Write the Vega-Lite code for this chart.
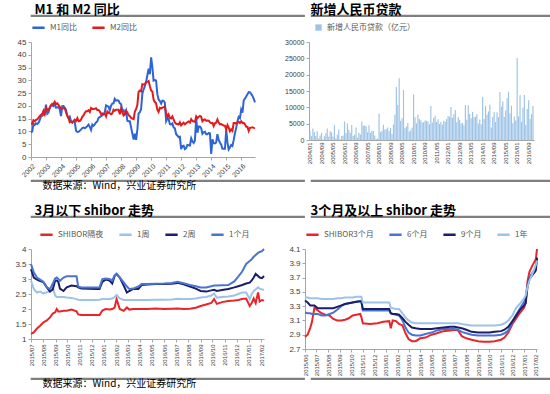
{
"$schema": "https://vega.github.io/schema/vega-lite/v6.json",
"background": "white",
"padding": {"left": 0, "top": 2, "right": 0, "bottom": 0},
"spacing": 11,
"resolve": {"scale": {"color": "independent"}},
"config": {
  "font": "Noto Sans CJK SC",
  "view": {"stroke": null},
  "axis": {"labelFont": "Liberation Sans", "labelFontSize": 8, "labelColor": "#404040", "domainColor": "#a6a6a6", "tickColor": "#a6a6a6", "grid": false, "tickSize": 3, "labelPadding": 2, "labelOverlap": false},
  "legend": {"orient": "top", "direction": "horizontal", "title": null, "labelFontSize": 8, "labelColor": "#595959", "symbolType": "stroke", "symbolStrokeWidth": 2.5, "symbolSize": 150, "columnPadding": 10, "labelFont": "Noto Sans CJK SC"},
  "title": {"color": "#000000", "font": "Noto Sans CJK SC"}
},
"vconcat": [
{"spacing": 0, "resolve": {"scale": {"color": "independent"}}, "vconcat": [
  {"spacing": 4, "hconcat": [
    {"width": 273, "height": 1, "data": {"values": [{}]}, "mark": "rule", "encoding": {}, "view": {"stroke": "#7f7f7f", "strokeWidth": 1.2},
     "title": {"text": "M1 和 M2 同比", "anchor": "start", "dx": 4, "offset": -2, "fontSize": 13, "fontWeight": "bold"}},
    {"width": 273, "height": 1, "data": {"values": [{}]}, "mark": "rule", "encoding": {}, "view": {"stroke": "#7f7f7f", "strokeWidth": 1.2},
     "title": {"text": "新增人民币贷款", "anchor": "start", "dx": 0, "offset": -2, "fontSize": 13, "fontWeight": "bold"}}
  ]},
  {"spacing": 4, "resolve": {"scale": {"color": "independent"}}, "hconcat": [
   {"vconcat": [
    {"width": 224, "height": 115,
     "data": {"format": {"parse": {"d": "date:'%Y/%m'"}}, "values": [
{"d":"2002/01","M1同比":9.6,"M2同比":13.0},{"d":"2002/02","M1同比":10.0,"M2同比":13.0},{"d":"2002/03","M1同比":13.0,"M2同比":14.4},{"d":"2002/04","M1同比":12.5,"M2同比":14.0},{"d":"2002/05","M1同比":13.2,"M2同比":14.5},{"d":"2002/06","M1同比":12.9,"M2同比":14.7},{"d":"2002/07","M1同比":13.3,"M2同比":15.3},{"d":"2002/08","M1同比":14.4,"M2同比":16.0},{"d":"2002/09","M1同比":15.9,"M2同比":16.5},{"d":"2002/10","M1同比":16.1,"M2同比":16.9},{"d":"2002/11","M1同比":16.5,"M2同比":18.1},{"d":"2002/12","M1同比":16.8,"M2同比":16.8},
{"d":"2003/01","M1同比":20.5,"M2同比":19.3},{"d":"2003/02","M1同比":16.9,"M2同比":18.5},{"d":"2003/03","M1同比":17.4,"M2同比":18.5},{"d":"2003/04","M1同比":19.1,"M2同比":19.2},{"d":"2003/05","M1同比":20.2,"M2同比":20.2},{"d":"2003/06","M1同比":20.2,"M2同比":20.8},{"d":"2003/07","M1同比":19.9,"M2同比":20.7},{"d":"2003/08","M1同比":20.8,"M2同比":21.6},{"d":"2003/09","M1同比":19.3,"M2同比":20.7},{"d":"2003/10","M1同比":19.4,"M2同比":21.0},{"d":"2003/11","M1同比":19.6,"M2同比":20.4},{"d":"2003/12","M1同比":18.7,"M2同比":19.6},
{"d":"2004/01","M1同比":16.0,"M2同比":18.9},{"d":"2004/02","M1同比":20.0,"M2同比":19.0},{"d":"2004/03","M1同比":20.0,"M2同比":19.1},{"d":"2004/04","M1同比":19.2,"M2同比":19.1},{"d":"2004/05","M1同比":18.5,"M2同比":17.5},{"d":"2004/06","M1同比":16.2,"M2同比":16.2},{"d":"2004/07","M1同比":15.2,"M2同比":15.3},{"d":"2004/08","M1同比":15.8,"M2同比":13.6},{"d":"2004/09","M1同比":13.9,"M2同比":13.9},{"d":"2004/10","M1同比":13.5,"M2同比":13.5},{"d":"2004/11","M1同比":14.1,"M2同比":14.0},{"d":"2004/12","M1同比":13.6,"M2同比":14.6},
{"d":"2005/01","M1同比":10.3,"M2同比":14.1},{"d":"2005/02","M1同比":9.8,"M2同比":15.2},{"d":"2005/03","M1同比":9.9,"M2同比":14.0},{"d":"2005/04","M1同比":10.3,"M2同比":14.1},{"d":"2005/05","M1同比":10.7,"M2同比":14.6},{"d":"2005/06","M1同比":11.3,"M2同比":15.7},{"d":"2005/07","M1同比":11.5,"M2同比":16.3},{"d":"2005/08","M1同比":11.3,"M2同比":17.3},{"d":"2005/09","M1同比":11.6,"M2同比":17.9},{"d":"2005/10","M1同比":12.1,"M2同比":17.9},{"d":"2005/11","M1同比":12.7,"M2同比":18.3},{"d":"2005/12","M1同比":11.8,"M2同比":17.6},
{"d":"2006/01","M1同比":10.6,"M2同比":19.2},{"d":"2006/02","M1同比":12.7,"M2同比":18.8},{"d":"2006/03","M1同比":12.2,"M2同比":18.8},{"d":"2006/04","M1同比":12.8,"M2同比":18.9},{"d":"2006/05","M1同比":13.5,"M2同比":19.1},{"d":"2006/06","M1同比":13.9,"M2同比":18.4},{"d":"2006/07","M1同比":15.3,"M2同比":18.4},{"d":"2006/08","M1同比":15.6,"M2同比":17.9},{"d":"2006/09","M1同比":16.0,"M2同比":16.8},{"d":"2006/10","M1同比":16.3,"M2同比":17.1},{"d":"2006/11","M1同比":16.8,"M2同比":16.8},{"d":"2006/12","M1同比":17.5,"M2同比":16.9},
{"d":"2007/01","M1同比":20.2,"M2同比":15.9},{"d":"2007/02","M1同比":19.9,"M2同比":17.8},{"d":"2007/03","M1同比":19.8,"M2同比":17.3},{"d":"2007/04","M1同比":18.3,"M2同比":17.1},{"d":"2007/05","M1同比":20.0,"M2同比":16.7},{"d":"2007/06","M1同比":20.9,"M2同比":17.1},{"d":"2007/07","M1同比":21.0,"M2同比":18.5},{"d":"2007/08","M1同比":22.8,"M2同比":18.1},{"d":"2007/09","M1同比":22.1,"M2同比":18.5},{"d":"2007/10","M1同比":22.2,"M2同比":18.5},{"d":"2007/11","M1同比":22.1,"M2同比":18.5},{"d":"2007/12","M1同比":21.0,"M2同比":16.7},
{"d":"2008/01","M1同比":20.7,"M2同比":18.9},{"d":"2008/02","M1同比":18.2,"M2同比":17.5},{"d":"2008/03","M1同比":18.3,"M2同比":16.3},{"d":"2008/04","M1同比":16.9,"M2同比":16.9},{"d":"2008/05","M1同比":18.1,"M2同比":18.1},{"d":"2008/06","M1同比":14.2,"M2同比":17.4},{"d":"2008/07","M1同比":14.0,"M2同比":16.4},{"d":"2008/08","M1同比":14.0,"M2同比":16.0},{"d":"2008/09","M1同比":11.5,"M2同比":15.3},{"d":"2008/10","M1同比":9.2,"M2同比":15.0},{"d":"2008/11","M1同比":6.8,"M2同比":14.8},{"d":"2008/12","M1同比":9.1,"M2同比":17.8},
{"d":"2009/01","M1同比":6.7,"M2同比":18.8},{"d":"2009/02","M1同比":10.9,"M2同比":20.5},{"d":"2009/03","M1同比":17.0,"M2同比":25.5},{"d":"2009/04","M1同比":17.5,"M2同比":26.0},{"d":"2009/05","M1同比":18.7,"M2同比":25.7},{"d":"2009/06","M1同比":24.8,"M2同比":28.5},{"d":"2009/07","M1同比":26.4,"M2同比":28.4},{"d":"2009/08","M1同比":27.7,"M2同比":28.5},{"d":"2009/09","M1同比":29.5,"M2同比":29.3},{"d":"2009/10","M1同比":32.0,"M2同比":29.4},{"d":"2009/11","M1同比":34.6,"M2同比":29.7},{"d":"2009/12","M1同比":32.4,"M2同比":27.7},
{"d":"2010/01","M1同比":39.0,"M2同比":26.0},{"d":"2010/02","M1同比":35.0,"M2同比":25.5},{"d":"2010/03","M1同比":29.9,"M2同比":22.5},{"d":"2010/04","M1同比":30.2,"M2同比":21.5},{"d":"2010/05","M1同比":29.9,"M2同比":21.0},{"d":"2010/06","M1同比":24.6,"M2同比":18.5},{"d":"2010/07","M1同比":22.5,"M2同比":17.6},{"d":"2010/08","M1同比":21.9,"M2同比":19.2},{"d":"2010/09","M1同比":20.9,"M2同比":19.0},{"d":"2010/10","M1同比":22.1,"M2同比":19.3},{"d":"2010/11","M1同比":22.0,"M2同比":19.5},{"d":"2010/12","M1同比":21.2,"M2同比":19.7},
{"d":"2011/01","M1同比":14.0,"M2同比":17.2},{"d":"2011/02","M1同比":15.0,"M2同比":15.7},{"d":"2011/03","M1同比":15.0,"M2同比":16.6},{"d":"2011/04","M1同比":12.9,"M2同比":15.3},{"d":"2011/05","M1同比":12.7,"M2同比":15.1},{"d":"2011/06","M1同比":13.1,"M2同比":15.9},{"d":"2011/07","M1同比":11.6,"M2同比":14.7},{"d":"2011/08","M1同比":11.2,"M2同比":13.5},{"d":"2011/09","M1同比":8.9,"M2同比":13.0},{"d":"2011/10","M1同比":8.4,"M2同比":12.9},{"d":"2011/11","M1同比":7.8,"M2同比":12.7},{"d":"2011/12","M1同比":7.9,"M2同比":13.6},
{"d":"2012/01","M1同比":3.1,"M2同比":12.4},{"d":"2012/02","M1同比":4.3,"M2同比":13.0},{"d":"2012/03","M1同比":4.4,"M2同比":13.4},{"d":"2012/04","M1同比":3.1,"M2同比":12.8},{"d":"2012/05","M1同比":3.5,"M2同比":13.2},{"d":"2012/06","M1同比":4.7,"M2同比":13.6},{"d":"2012/07","M1同比":4.6,"M2同比":13.9},{"d":"2012/08","M1同比":4.5,"M2同比":13.5},{"d":"2012/09","M1同比":7.3,"M2同比":14.8},{"d":"2012/10","M1同比":6.1,"M2同比":14.1},{"d":"2012/11","M1同比":5.5,"M2同比":13.9},{"d":"2012/12","M1同比":6.5,"M2同比":13.8},
{"d":"2013/01","M1同比":15.3,"M2同比":15.9},{"d":"2013/02","M1同比":9.5,"M2同比":15.2},{"d":"2013/03","M1同比":11.9,"M2同比":15.7},{"d":"2013/04","M1同比":11.9,"M2同比":16.1},{"d":"2013/05","M1同比":11.3,"M2同比":15.8},{"d":"2013/06","M1同比":9.1,"M2同比":14.0},{"d":"2013/07","M1同比":9.7,"M2同比":14.5},{"d":"2013/08","M1同比":9.9,"M2同比":14.7},{"d":"2013/09","M1同比":8.9,"M2同比":14.2},{"d":"2013/10","M1同比":8.9,"M2同比":14.3},{"d":"2013/11","M1同比":9.4,"M2同比":14.2},{"d":"2013/12","M1同比":9.3,"M2同比":13.6},
{"d":"2014/01","M1同比":1.2,"M2同比":13.2},{"d":"2014/02","M1同比":6.9,"M2同比":13.3},{"d":"2014/03","M1同比":5.4,"M2同比":12.1},{"d":"2014/04","M1同比":5.3,"M2同比":13.2},{"d":"2014/05","M1同比":5.7,"M2同比":13.4},{"d":"2014/06","M1同比":8.9,"M2同比":14.7},{"d":"2014/07","M1同比":6.7,"M2同比":13.5},{"d":"2014/08","M1同比":5.7,"M2同比":12.8},{"d":"2014/09","M1同比":4.8,"M2同比":12.9},{"d":"2014/10","M1同比":3.2,"M2同比":12.6},{"d":"2014/11","M1同比":3.2,"M2同比":12.3},{"d":"2014/12","M1同比":3.2,"M2同比":12.2},
{"d":"2015/01","M1同比":10.6,"M2同比":10.8},{"d":"2015/02","M1同比":5.6,"M2同比":12.5},{"d":"2015/03","M1同比":2.9,"M2同比":11.6},{"d":"2015/04","M1同比":3.7,"M2同比":10.1},{"d":"2015/05","M1同比":4.7,"M2同比":10.8},{"d":"2015/06","M1同比":4.3,"M2同比":10.2},{"d":"2015/07","M1同比":6.6,"M2同比":13.3},{"d":"2015/08","M1同比":9.3,"M2同比":13.3},{"d":"2015/09","M1同比":11.4,"M2同比":13.1},{"d":"2015/10","M1同比":14.0,"M2同比":13.5},{"d":"2015/11","M1同比":15.7,"M2同比":13.7},{"d":"2015/12","M1同比":15.2,"M2同比":13.3},
{"d":"2016/01","M1同比":18.6,"M2同比":14.0},{"d":"2016/02","M1同比":17.4,"M2同比":13.3},{"d":"2016/03","M1同比":22.1,"M2同比":13.4},{"d":"2016/04","M1同比":22.9,"M2同比":12.8},{"d":"2016/05","M1同比":23.7,"M2同比":11.8},{"d":"2016/06","M1同比":24.6,"M2同比":11.8},{"d":"2016/07","M1同比":25.4,"M2同比":10.2},{"d":"2016/08","M1同比":25.3,"M2同比":11.4},{"d":"2016/09","M1同比":24.7,"M2同比":11.5},{"d":"2016/10","M1同比":23.9,"M2同比":11.6},{"d":"2016/11","M1同比":22.7,"M2同比":11.4},{"d":"2016/12","M1同比":21.4,"M2同比":11.3}
     ]},
     "transform": [{"fold": ["M1同比", "M2同比"], "as": ["s", "v"]}],
     "mark": {"type": "line", "strokeWidth": 2},
     "encoding": {
       "x": {"field": "d", "type": "temporal", "title": null, "axis": {"format": "%Y", "labelAngle": -45, "labelFontSize": 7, "tickCount": {"interval": "year", "step": 1}, "maxExtent": 27}},
       "y": {"field": "v", "type": "quantitative", "title": null, "scale": {"domain": [0, 45]}, "axis": {"values": [0, 5, 10, 15, 20, 25, 30, 35, 40, 45], "minExtent": 31}},
       "color": {"field": "s", "type": "nominal", "scale": {"domain": ["M1同比", "M2同比"], "range": ["#2E64D6", "#E31A1C"]}, "legend": {"offset": 5}}
     }}]},
   {"vconcat": [
    {"width": 225, "height": 98,
     "data": {"values": [
{"m":"2004/01","v":2773},{"m":"2004/02","v":1178},{"m":"2004/03","v":3535},{"m":"2004/04","v":2455},{"m":"2004/05","v":1256},{"m":"2004/06","v":2703},{"m":"2004/07","v":470},{"m":"2004/08","v":1344},{"m":"2004/09","v":2210},{"m":"2004/10","v":158},{"m":"2004/11","v":1122},{"m":"2004/12","v":2080},
{"m":"2005/01","v":3544},{"m":"2005/02","v":1000},{"m":"2005/03","v":2680},{"m":"2005/04","v":2291},{"m":"2005/05","v":1101},{"m":"2005/06","v":4609},{"m":"2005/07","v":432},{"m":"2005/08","v":1642},{"m":"2005/09","v":3124},{"m":"2005/10","v":238},{"m":"2005/11","v":1253},{"m":"2005/12","v":1376},
{"m":"2006/01","v":5665},{"m":"2006/02","v":2053},{"m":"2006/03","v":5016},{"m":"2006/04","v":3172},{"m":"2006/05","v":2222},{"m":"2006/06","v":4590},{"m":"2006/07","v":1225},{"m":"2006/08","v":1594},{"m":"2006/09","v":3826},{"m":"2006/10","v":692},{"m":"2006/11","v":2243},{"m":"2006/12","v":1698},
{"m":"2007/01","v":5670},{"m":"2007/02","v":4400},{"m":"2007/03","v":4417},{"m":"2007/04","v":4242},{"m":"2007/05","v":2385},{"m":"2007/06","v":4515},{"m":"2007/07","v":2211},{"m":"2007/08","v":2843},{"m":"2007/09","v":2766},{"m":"2007/10","v":1361},{"m":"2007/11","v":337},{"m":"2007/12","v":485},
{"m":"2008/01","v":8037},{"m":"2008/02","v":2430},{"m":"2008/03","v":2834},{"m":"2008/04","v":4645},{"m":"2008/05","v":3185},{"m":"2008/06","v":3324},{"m":"2008/07","v":3857},{"m":"2008/08","v":2715},{"m":"2008/09","v":3702},{"m":"2008/10","v":1812},{"m":"2008/11","v":4769},{"m":"2008/12","v":7718},
{"m":"2009/01","v":16213},{"m":"2009/02","v":10724},{"m":"2009/03","v":18920},{"m":"2009/04","v":5918},{"m":"2009/05","v":6645},{"m":"2009/06","v":15304},{"m":"2009/07","v":3559},{"m":"2009/08","v":4104},{"m":"2009/09","v":5167},{"m":"2009/10","v":2530},{"m":"2009/11","v":2948},{"m":"2009/12","v":3798},
{"m":"2010/01","v":13961},{"m":"2010/02","v":7001},{"m":"2010/03","v":5107},{"m":"2010/04","v":7740},{"m":"2010/05","v":6394},{"m":"2010/06","v":6034},{"m":"2010/07","v":5328},{"m":"2010/08","v":5452},{"m":"2010/09","v":5955},{"m":"2010/10","v":5877},{"m":"2010/11","v":5640},{"m":"2010/12","v":4807},
{"m":"2011/01","v":10385},{"m":"2011/02","v":5356},{"m":"2011/03","v":6794},{"m":"2011/04","v":7396},{"m":"2011/05","v":5516},{"m":"2011/06","v":6339},{"m":"2011/07","v":4922},{"m":"2011/08","v":5485},{"m":"2011/09","v":4700},{"m":"2011/10","v":5868},{"m":"2011/11","v":5622},{"m":"2011/12","v":6405},
{"m":"2012/01","v":7381},{"m":"2012/02","v":7107},{"m":"2012/03","v":10114},{"m":"2012/04","v":6818},{"m":"2012/05","v":7932},{"m":"2012/06","v":9198},{"m":"2012/07","v":5401},{"m":"2012/08","v":7039},{"m":"2012/09","v":6232},{"m":"2012/10","v":5053},{"m":"2012/11","v":5229},{"m":"2012/12","v":4543},
{"m":"2013/01","v":10721},{"m":"2013/02","v":6200},{"m":"2013/03","v":10625},{"m":"2013/04","v":7929},{"m":"2013/05","v":6694},{"m":"2013/06","v":8605},{"m":"2013/07","v":6999},{"m":"2013/08","v":7135},{"m":"2013/09","v":7870},{"m":"2013/10","v":5054},{"m":"2013/11","v":6246},{"m":"2013/12","v":4825},
{"m":"2014/01","v":13200},{"m":"2014/02","v":6445},{"m":"2014/03","v":10500},{"m":"2014/04","v":7747},{"m":"2014/05","v":8708},{"m":"2014/06","v":10800},{"m":"2014/07","v":3852},{"m":"2014/08","v":7025},{"m":"2014/09","v":8572},{"m":"2014/10","v":5483},{"m":"2014/11","v":8527},{"m":"2014/12","v":6973},
{"m":"2015/01","v":14708},{"m":"2015/02","v":10200},{"m":"2015/03","v":11800},{"m":"2015/04","v":7079},{"m":"2015/05","v":9008},{"m":"2015/06","v":12793},{"m":"2015/07","v":14800},{"m":"2015/08","v":8096},{"m":"2015/09","v":10500},{"m":"2015/10","v":5136},{"m":"2015/11","v":7089},{"m":"2015/12","v":5978},
{"m":"2016/01","v":25100},{"m":"2016/02","v":7266},{"m":"2016/03","v":13700},{"m":"2016/04","v":5556},{"m":"2016/05","v":9855},{"m":"2016/06","v":13800},{"m":"2016/07","v":4636},{"m":"2016/08","v":9487},{"m":"2016/09","v":12200},{"m":"2016/10","v":6513},{"m":"2016/11","v":7946},{"m":"2016/12","v":10400}
     ]},
     "mark": {"type": "bar"},
     "encoding": {
       "x": {"field": "m", "type": "ordinal", "title": null, "scale": {"paddingInner": 0.2, "paddingOuter": 0.3},
             "axis": {"values": ["2004/01","2004/09","2005/05","2006/01","2006/09","2007/05","2008/01","2008/09","2009/05","2010/01","2010/09","2011/05","2012/01","2012/09","2013/05","2014/01","2014/09","2015/05","2016/01","2016/09"], "labelAngle": -90, "labelFontSize": 6, "ticks": false}},
       "y": {"field": "v", "type": "quantitative", "title": null, "scale": {"domain": [0, 30000]}, "axis": {"values": [0, 5000, 10000, 15000, 20000, 25000, 30000], "format": "d", "labelFontSize": 7, "minExtent": 46}},
       "color": {"datum": "新增人民币贷款（亿元）", "type": "nominal", "scale": {"range": ["#9DC3E6"]}, "legend": {"symbolType": "square", "symbolSize": 40, "padding": 5, "offset": 1}}
     }}]}
  ]},
  {"spacing": 4, "hconcat": [
    {"width": 273, "height": 1, "data": {"values": [{}]}, "mark": "rule", "encoding": {}, "view": {"stroke": "#7f7f7f", "strokeWidth": 1.2},
     "title": {"text": "数据来源：Wind，兴业证券研究所", "orient": "bottom", "anchor": "start", "dx": 12, "offset": 0, "fontSize": 10, "fontWeight": "normal"}},
    {"width": 273, "height": 1, "data": {"values": [{}]}, "mark": "rule", "encoding": {}, "view": {"stroke": "#7f7f7f", "strokeWidth": 1.2}}
  ]}
]},
{"spacing": 0, "resolve": {"scale": {"color": "independent"}}, "vconcat": [
  {"spacing": 4, "hconcat": [
    {"width": 273, "height": 1, "data": {"values": [{}]}, "mark": "rule", "encoding": {}, "view": {"stroke": "#7f7f7f", "strokeWidth": 1.2},
     "title": {"text": "3月以下 shibor 走势", "anchor": "start", "dx": 4, "offset": -2, "fontSize": 13, "fontWeight": "bold"}},
    {"width": 273, "height": 1, "data": {"values": [{}]}, "mark": "rule", "encoding": {}, "view": {"stroke": "#7f7f7f", "strokeWidth": 1.2},
     "title": {"text": "3个月及以上 shibor 走势", "anchor": "start", "dx": 0, "offset": -2, "fontSize": 13, "fontWeight": "bold"}}
  ]},
  {"spacing": 4, "resolve": {"scale": {"color": "independent"}}, "hconcat": [
   {"vconcat": [
    {"width": 233, "height": 90,
     "data": {"format": {"parse": {"t": "date:'%Y/%m/%d'"}}, "values": [
{"t":"2015/07/01","SHIBOR隔夜":1.17,"1周":2.94,"2周":3.33,"1个月":3.50},
{"t":"2015/07/08","SHIBOR隔夜":1.22,"1周":2.67,"2周":3.05,"1个月":3.22},
{"t":"2015/07/16","SHIBOR隔夜":1.35,"1周":2.55,"2周":2.98,"1个月":3.05},
{"t":"2015/07/24","SHIBOR隔夜":1.44,"1周":2.58,"2周":2.93,"1个月":2.98},
{"t":"2015/08/01","SHIBOR隔夜":1.55,"1周":2.52,"2周":2.90,"1个月":2.91},
{"t":"2015/08/10","SHIBOR隔夜":1.62,"1周":2.56,"2周":2.72,"1个月":2.72},
{"t":"2015/08/18","SHIBOR隔夜":1.72,"1周":2.60,"2周":2.58,"1个月":2.66},
{"t":"2015/08/25","SHIBOR隔夜":1.85,"1周":2.72,"2周":2.65,"1个月":2.85},
{"t":"2015/08/31","SHIBOR隔夜":1.89,"1周":2.45,"2周":2.95,"1个月":3.02},
{"t":"2015/09/04","SHIBOR隔夜":2.00,"1周":2.40,"2周":2.95,"1个月":3.05},
{"t":"2015/09/08","SHIBOR隔夜":1.92,"1周":2.40,"2周":2.90,"1个月":3.00},
{"t":"2015/09/12","SHIBOR隔夜":1.92,"1周":2.40,"2周":2.68,"1个月":2.94},
{"t":"2015/09/21","SHIBOR隔夜":1.94,"1周":2.40,"2周":2.60,"1个月":3.05},
{"t":"2015/09/29","SHIBOR隔夜":1.94,"1周":2.38,"2周":2.72,"1个月":3.09},
{"t":"2015/10/11","SHIBOR隔夜":1.98,"1周":2.37,"2周":2.78,"1个月":3.09},
{"t":"2015/10/24","SHIBOR隔夜":1.92,"1周":2.33,"2周":2.76,"1个月":3.09},
{"t":"2015/10/28","SHIBOR隔夜":1.82,"1周":2.31,"2周":2.72,"1个月":2.75},
{"t":"2015/11/05","SHIBOR隔夜":1.80,"1周":2.30,"2周":2.68,"1个月":2.72},
{"t":"2015/12/13","SHIBOR隔夜":1.80,"1周":2.30,"2周":2.67,"1个月":2.72},
{"t":"2015/12/21","SHIBOR隔夜":1.80,"1周":2.31,"2周":2.67,"1个月":2.72},
{"t":"2015/12/28","SHIBOR隔夜":1.95,"1周":2.33,"2周":2.90,"1个月":3.00},
{"t":"2016/01/05","SHIBOR隔夜":2.00,"1周":2.33,"2周":2.98,"1个月":3.02},
{"t":"2016/01/15","SHIBOR隔夜":1.98,"1周":2.33,"2周":2.95,"1个月":3.00},
{"t":"2016/01/22","SHIBOR隔夜":2.00,"1周":2.35,"2周":2.85,"1个月":2.95},
{"t":"2016/01/28","SHIBOR隔夜":2.05,"1周":2.40,"2周":3.10,"1个月":3.12},
{"t":"2016/02/02","SHIBOR隔夜":2.33,"1周":2.47,"2周":3.17,"1个月":3.17},
{"t":"2016/02/10","SHIBOR隔夜":2.00,"1周":2.35,"2周":3.05,"1个月":3.05},
{"t":"2016/02/20","SHIBOR隔夜":1.94,"1周":2.30,"2周":2.78,"1个月":2.89},
{"t":"2016/02/28","SHIBOR隔夜":2.05,"1周":2.30,"2周":2.55,"1个月":2.75},
{"t":"2016/03/05","SHIBOR隔夜":1.98,"1周":2.30,"2周":2.60,"1个月":2.67},
{"t":"2016/03/15","SHIBOR隔夜":2.00,"1周":2.30,"2周":2.67,"1个月":2.68},
{"t":"2016/03/28","SHIBOR隔夜":2.00,"1周":2.30,"2周":2.67,"1个月":2.75},
{"t":"2016/04/05","SHIBOR隔夜":2.00,"1周":2.30,"2周":2.80,"1个月":2.83},
{"t":"2016/04/20","SHIBOR隔夜":2.00,"1周":2.30,"2周":2.82,"1个月":2.83},
{"t":"2016/05/10","SHIBOR隔夜":2.02,"1周":2.31,"2周":2.83,"1个月":2.84},
{"t":"2016/06/01","SHIBOR隔夜":2.00,"1周":2.31,"2周":2.83,"1个月":2.85},
{"t":"2016/06/20","SHIBOR隔夜":2.01,"1周":2.32,"2周":2.84,"1个月":2.87},
{"t":"2016/07/05","SHIBOR隔夜":2.02,"1周":2.34,"2周":2.87,"1个月":2.91},
{"t":"2016/07/20","SHIBOR隔夜":2.00,"1周":2.33,"2周":2.82,"1个月":2.86},
{"t":"2016/08/05","SHIBOR隔夜":2.01,"1周":2.33,"2周":2.75,"1个月":2.80},
{"t":"2016/08/20","SHIBOR隔夜":2.04,"1周":2.35,"2周":2.68,"1个月":2.76},
{"t":"2016/09/01","SHIBOR隔夜":2.10,"1周":2.38,"2周":2.60,"1个月":2.72},
{"t":"2016/09/15","SHIBOR隔夜":2.15,"1周":2.40,"2周":2.58,"1个月":2.72},
{"t":"2016/09/28","SHIBOR隔夜":2.20,"1周":2.45,"2周":2.62,"1个月":2.76},
{"t":"2016/10/05","SHIBOR隔夜":2.33,"1周":2.52,"2周":2.64,"1个月":2.78},
{"t":"2016/10/12","SHIBOR隔夜":2.17,"1周":2.38,"2周":2.60,"1个月":2.78},
{"t":"2016/10/25","SHIBOR隔夜":2.23,"1周":2.40,"2周":2.63,"1个月":2.79},
{"t":"2016/11/10","SHIBOR隔夜":2.27,"1周":2.42,"2周":2.67,"1个月":2.80},
{"t":"2016/11/25","SHIBOR隔夜":2.28,"1周":2.45,"2周":2.72,"1个月":2.92},
{"t":"2016/12/05","SHIBOR隔夜":2.30,"1周":2.50,"2周":2.76,"1个月":3.08},
{"t":"2016/12/15","SHIBOR隔夜":2.33,"1周":2.55,"2周":2.80,"1个月":3.25},
{"t":"2016/12/25","SHIBOR隔夜":2.35,"1周":2.55,"2周":2.85,"1个月":3.50},
{"t":"2017/01/03","SHIBOR隔夜":2.10,"1周":2.33,"2周":2.88,"1个月":3.60},
{"t":"2017/01/08","SHIBOR隔夜":2.20,"1周":2.50,"2周":2.95,"1个月":3.66},
{"t":"2017/01/13","SHIBOR隔夜":2.35,"1周":2.60,"2周":3.05,"1个月":3.74},
{"t":"2017/01/18","SHIBOR隔夜":2.20,"1周":2.65,"2周":3.17,"1个月":3.80},
{"t":"2017/01/24","SHIBOR隔夜":2.55,"1周":2.72,"2周":3.10,"1个月":3.87},
{"t":"2017/01/28","SHIBOR隔夜":2.25,"1周":2.68,"2周":3.05,"1个月":3.90},
{"t":"2017/02/03","SHIBOR隔夜":2.30,"1周":2.65,"2周":3.03,"1个月":3.93},
{"t":"2017/02/08","SHIBOR隔夜":2.28,"1周":2.64,"2周":3.10,"1个月":4.00}
     ]},
     "transform": [{"fold": ["SHIBOR隔夜", "1周", "2周", "1个月"], "as": ["s", "v"]}],
     "mark": {"type": "line", "strokeWidth": 2},
     "encoding": {
       "x": {"field": "t", "type": "temporal", "title": null, "axis": {"format": "%Y/%m", "labelAngle": -90, "labelFontSize": 6, "tickCount": {"interval": "month", "step": 1}, "maxExtent": 30}},
       "y": {"field": "v", "type": "quantitative", "title": null, "scale": {"domain": [1, 4]}, "axis": {"values": [1, 1.5, 2, 2.5, 3, 3.5, 4], "format": "~g", "minExtent": 30}},
       "color": {"field": "s", "type": "nominal", "scale": {"domain": ["SHIBOR隔夜", "1周", "2周", "1个月"], "range": ["#E8262A", "#9DC3E6", "#1B1F6B", "#4A74D0"]}, "legend": {"padding": 8, "offset": -3}}
     }}]},
   {"vconcat": [
    {"width": 232, "height": 100,
     "data": {"format": {"parse": {"t": "date:'%Y/%m/%d'"}}, "values": [
{"t":"2015/06/01","SHIBOR3个月":2.87,"6个月":3.21,"9个月":3.38,"1年":3.42},
{"t":"2015/06/08","SHIBOR3个月":2.90,"6个月":3.20,"9个月":3.35,"1年":3.42},
{"t":"2015/06/15","SHIBOR3个月":3.00,"6个月":3.20,"9个月":3.31,"1年":3.41},
{"t":"2015/06/19","SHIBOR3个月":3.07,"6个月":3.19,"9个月":3.31,"1年":3.41},
{"t":"2015/06/26","SHIBOR3个月":3.28,"6个月":3.19,"9个月":3.31,"1年":3.41},
{"t":"2015/07/05","SHIBOR3个月":3.24,"6个月":3.19,"9个月":3.27,"1年":3.41},
{"t":"2015/07/15","SHIBOR3个月":3.20,"6个月":3.17,"9个月":3.27,"1年":3.40},
{"t":"2015/07/25","SHIBOR3个月":3.18,"6个月":3.17,"9个月":3.27,"1年":3.40},
{"t":"2015/08/05","SHIBOR3个月":3.17,"6个月":3.19,"9个月":3.27,"1年":3.40},
{"t":"2015/08/15","SHIBOR3个月":3.12,"6个月":3.21,"9个月":3.27,"1年":3.40},
{"t":"2015/08/25","SHIBOR3个月":3.10,"6个月":3.25,"9个月":3.29,"1年":3.41},
{"t":"2015/09/05","SHIBOR3个月":3.10,"6个月":3.30,"9个月":3.31,"1年":3.41},
{"t":"2015/09/15","SHIBOR3个月":3.11,"6个月":3.33,"9个月":3.33,"1年":3.42},
{"t":"2015/09/25","SHIBOR3个月":3.13,"6个月":3.34,"9个月":3.34,"1年":3.42},
{"t":"2015/10/05","SHIBOR3个月":3.17,"6个月":3.35,"9个月":3.35,"1年":3.42},
{"t":"2015/10/15","SHIBOR3个月":3.18,"6个月":3.36,"9个月":3.36,"1年":3.43},
{"t":"2015/10/25","SHIBOR3个月":3.19,"6个月":3.37,"9个月":3.37,"1年":3.43},
{"t":"2015/10/28","SHIBOR3个月":3.15,"6个月":3.37,"9个月":3.37,"1年":3.43},
{"t":"2015/11/01","SHIBOR3个月":3.06,"6个月":3.24,"9个月":3.26,"1年":3.35},
{"t":"2015/11/20","SHIBOR3个月":3.05,"6个月":3.24,"9个月":3.26,"1年":3.35},
{"t":"2015/12/10","SHIBOR3个月":3.06,"6个月":3.24,"9个月":3.26,"1年":3.35},
{"t":"2015/12/25","SHIBOR3个月":3.08,"6个月":3.24,"9个月":3.26,"1年":3.35},
{"t":"2016/01/10","SHIBOR3个月":3.09,"6个月":3.24,"9个月":3.26,"1年":3.35},
{"t":"2016/01/14","SHIBOR3个月":2.99,"6个月":3.20,"9个月":3.20,"1年":3.28},
{"t":"2016/01/19","SHIBOR3个月":3.10,"6个月":3.19,"9个月":3.19,"1年":3.27},
{"t":"2016/01/28","SHIBOR3个月":3.09,"6个月":3.18,"9个月":3.19,"1年":3.26},
{"t":"2016/02/05","SHIBOR3个月":3.05,"6个月":3.17,"9个月":3.18,"1年":3.26},
{"t":"2016/02/14","SHIBOR3个月":3.03,"6个月":3.10,"9个月":3.13,"1年":3.20},
{"t":"2016/02/22","SHIBOR3个月":2.92,"6个月":3.00,"9个月":3.08,"1年":3.14},
{"t":"2016/03/01","SHIBOR3个月":2.84,"6个月":2.93,"9个月":3.04,"1年":3.10},
{"t":"2016/03/10","SHIBOR3个月":2.81,"6个月":2.90,"9个月":3.00,"1年":3.07},
{"t":"2016/03/20","SHIBOR3个月":2.81,"6个月":2.89,"9个月":2.99,"1年":3.06},
{"t":"2016/04/01","SHIBOR3个月":2.85,"6个月":2.89,"9个月":2.98,"1年":3.06},
{"t":"2016/04/15","SHIBOR3个月":2.86,"6个月":2.91,"9个月":2.98,"1年":3.06},
{"t":"2016/05/01","SHIBOR3个月":2.90,"6个月":2.93,"9个月":2.98,"1年":3.06},
{"t":"2016/05/15","SHIBOR3个月":2.92,"6个月":2.96,"9个月":2.99,"1年":3.06},
{"t":"2016/06/01","SHIBOR3个月":2.95,"6个月":2.98,"9个月":3.00,"1年":3.06},
{"t":"2016/06/20","SHIBOR3个月":2.96,"6个月":2.98,"9个月":3.01,"1年":3.06},
{"t":"2016/07/01","SHIBOR3个月":2.97,"6个月":2.98,"9个月":3.01,"1年":3.06},
{"t":"2016/07/10","SHIBOR3个月":2.96,"6个月":2.97,"9个月":3.00,"1年":3.06},
{"t":"2016/07/20","SHIBOR3个月":2.88,"6个月":2.94,"9个月":2.99,"1年":3.05},
{"t":"2016/08/01","SHIBOR3个月":2.85,"6个月":2.92,"9个月":2.97,"1年":3.04},
{"t":"2016/08/15","SHIBOR3个月":2.83,"6个月":2.90,"9个月":2.94,"1年":3.03},
{"t":"2016/09/01","SHIBOR3个月":2.81,"6个月":2.89,"9个月":2.93,"1年":3.03},
{"t":"2016/09/15","SHIBOR3个月":2.80,"6个月":2.89,"9个月":2.93,"1年":3.03},
{"t":"2016/10/01","SHIBOR3个月":2.80,"6个月":2.89,"9个月":2.93,"1年":3.03},
{"t":"2016/10/15","SHIBOR3个月":2.81,"6个月":2.89,"9个月":2.94,"1年":3.03},
{"t":"2016/11/01","SHIBOR3个月":2.83,"6个月":2.90,"9个月":2.95,"1年":3.04},
{"t":"2016/11/10","SHIBOR3个月":2.86,"6个月":2.92,"9个月":2.97,"1年":3.06},
{"t":"2016/11/20","SHIBOR3个月":2.93,"6个月":2.96,"9个月":3.01,"1年":3.10},
{"t":"2016/12/01","SHIBOR3个月":3.05,"6个月":3.08,"9个月":3.09,"1年":3.17},
{"t":"2016/12/10","SHIBOR3个月":3.12,"6个月":3.17,"9个月":3.16,"1年":3.27},
{"t":"2016/12/20","SHIBOR3个月":3.20,"6个月":3.26,"9个月":3.24,"1年":3.33},
{"t":"2017/01/01","SHIBOR3个月":3.28,"6个月":3.36,"9个月":3.31,"1年":3.41},
{"t":"2017/01/05","SHIBOR3个月":3.35,"6个月":3.42,"9个月":3.34,"1年":3.45},
{"t":"2017/01/10","SHIBOR3个月":3.65,"6个月":3.60,"9个月":3.58,"1年":3.57},
{"t":"2017/01/15","SHIBOR3个月":3.78,"6个月":3.70,"9个月":3.68,"1年":3.66},
{"t":"2017/01/22","SHIBOR3个月":3.86,"6个月":3.76,"9个月":3.73,"1年":3.74},
{"t":"2017/01/28","SHIBOR3个月":3.92,"6个月":3.80,"9个月":3.77,"1年":3.82},
{"t":"2017/02/01","SHIBOR3个月":3.96,"6个月":3.87,"9个月":3.80,"1年":3.88},
{"t":"2017/02/04","SHIBOR3个月":4.10,"6个月":3.96,"9个月":3.98,"1年":3.94}
     ]},
     "transform": [{"fold": ["SHIBOR3个月", "6个月", "9个月", "1年"], "as": ["s", "v"]}],
     "mark": {"type": "line", "strokeWidth": 2},
     "encoding": {
       "x": {"field": "t", "type": "temporal", "title": null, "axis": {"format": "%Y/%m", "labelAngle": -90, "labelFontSize": 6, "tickCount": {"interval": "month", "step": 1}, "maxExtent": 30}},
       "y": {"field": "v", "type": "quantitative", "title": null, "scale": {"domain": [2.7, 4.1]}, "axis": {"values": [2.7, 2.9, 3.1, 3.3, 3.5, 3.7, 3.9, 4.1], "format": ".1f", "minExtent": 33}},
       "color": {"field": "s", "type": "nominal", "scale": {"domain": ["SHIBOR3个月", "6个月", "9个月", "1年"], "range": ["#E8262A", "#4A74D0", "#1B1F6B", "#9DC3E6"]}, "legend": {"offset": 5}}
     }}]}
  ]},
  {"spacing": 4, "hconcat": [
    {"width": 273, "height": 1, "data": {"values": [{}]}, "mark": "rule", "encoding": {}, "view": {"stroke": "#7f7f7f", "strokeWidth": 1.2},
     "title": {"text": "数据来源：Wind，兴业证券研究所", "orient": "bottom", "anchor": "start", "dx": 12, "offset": 0, "fontSize": 10, "fontWeight": "normal"}},
    {"width": 273, "height": 1, "data": {"values": [{}]}, "mark": "rule", "encoding": {}, "view": {"stroke": "#7f7f7f", "strokeWidth": 1.2}}
  ]}
]}
]
}
